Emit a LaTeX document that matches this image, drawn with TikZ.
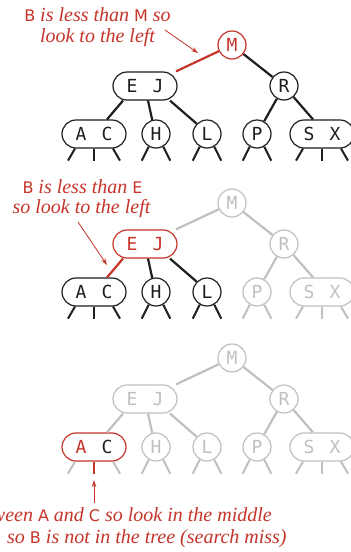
\documentclass[tikz,border=0pt]{standalone}
\usepackage{fontspec}
\setmainfont{Liberation Serif}
\newfontfamily\keyfont{DejaVu Sans}
\newfontfamily\nodefont{DejaVu Sans Mono}
\usetikzlibrary{arrows.meta}
\definecolor{sred}{RGB}{198,52,42}
\definecolor{sgray}{RGB}{192,192,192}
\definecolor{sblack}{RGB}{30,30,30}
\newcommand\kk[1]{{\upshape\keyfont\fontsize{16}{16}\selectfont #1}}
\newcommand\twokeys[2]{#1\hspace{15.2pt}#2}
\newcommand\stubsone[2]{%
  \draw[stub,#2] (#1.-120) -- ++(-7,14);
  \draw[stub,#2] (#1.-60) -- ++(7,14);}
\newcommand\stubstwo[4]{%
  \draw[stub,#2] ([xshift=-19pt]#1.south) -- ++(-7,12);
  \draw[stub,#3] (#1.south) -- ++(0,12);
  \draw[stub,#4] ([xshift=19pt]#1.south) -- ++(7,12);}
\begin{document}
\begin{tikzpicture}[x=1pt,y=-1pt,color=sblack,
  every node/.style={inner sep=0pt},
  keyfnt/.style={font=\nodefont\fontsize{18}{18}\selectfont},
  one/.style={circle, draw, line width=1.2pt, minimum size=28pt, fill=white, keyfnt},
  two/.style={rectangle, rounded corners=14pt, draw, line width=1.2pt, minimum width=64pt, minimum height=28pt, fill=white, keyfnt},
  gry/.style={draw=sgray, text=sgray},
  redn/.style={draw=sred, text=sred},
  link/.style={line width=2.2pt},
  stub/.style={line width=2pt},
  note/.style={font=\itshape\fontsize{20}{21}\selectfont, text=sred},
  pointer/.style={draw=sred, line width=0.8pt, -{Stealth[length=7pt,width=4.5pt]}},
]
\fill[white] (0,0) rectangle (351,552);
\useasboundingbox (0,0) rectangle (351,552);

% ---------- tree 1 ----------
\node[one, redn] (M1) at (232,45) {M};
\node[two] (EJ1) at (145,86) {\twokeys EJ};
\node[one] (R1) at (284,86) {R};
\node[two] (AC1) at (94,134) {\twokeys AC};
\node[one] (H1) at (156,134) {H};
\node[one] (L1) at (207,134) {L};
\node[one] (P1) at (257,134) {P};
\node[two] (SX1) at (322,134) {\twokeys SX};
\draw[link, sred] (M1) -- (EJ1);
\draw[link] (M1) -- (R1);
\draw[link] ([xshift=-22pt]EJ1.south) -- ([xshift=13pt]AC1.north);
\draw[link] ([xshift=3pt]EJ1.south) -- (H1.105);
\draw[link] ([xshift=25pt]EJ1.south) -- (L1.135);
\draw[link] (R1) -- (P1);
\draw[link] (R1) -- ([xshift=-9pt]SX1.north);
\stubstwo{AC1}{sblack}{sblack}{sblack}
\stubsone{H1}{sblack}
\stubsone{L1}{sblack}
\stubsone{P1}{sblack}
\stubstwo{SX1}{sblack}{sblack}{sblack}
\node[note, anchor=base] (t1a) at (97.5,21) {\kk{B} is less than \kk{M} so};
\node[note, anchor=base] (t1b) at (97.5,42) {look to the left};
\coordinate (a1) at (165,30);
\draw[pointer] (a1) -- (198,53);

% ---------- tree 2 ----------
\begin{scope}[yshift=-158pt]
\node[one, gry] (M2) at (232,45) {M};
\node[two, redn] (EJ2) at (145,86) {\twokeys EJ};
\node[one, gry] (R2) at (284,86) {R};
\node[two] (AC2) at (94,134) {\twokeys AC};
\node[one] (H2) at (156,134) {H};
\node[one] (L2) at (207,134) {L};
\node[one, gry] (P2) at (257,134) {P};
\node[two, gry] (SX2) at (322,134) {\twokeys SX};
\draw[link, sgray] (M2) -- (EJ2);
\draw[link, sgray] (M2) -- (R2);
\draw[link, sred] ([xshift=-22pt]EJ2.south) -- ([xshift=13pt]AC2.north);
\draw[link] ([xshift=3pt]EJ2.south) -- (H2.105);
\draw[link] ([xshift=25pt]EJ2.south) -- (L2.135);
\draw[link, sgray] (R2) -- (P2);
\draw[link, sgray] (R2) -- ([xshift=-9pt]SX2.north);
\stubstwo{AC2}{sblack}{sblack}{sblack}
\stubsone{H2}{sblack}
\stubsone{L2}{sblack}
\stubsone{P2}{sgray}
\stubstwo{SX2}{sgray}{sgray}{sgray}
\end{scope}
\node[note, anchor=base] (t2a) at (82.5,193) {\kk{B} is less than \kk{E}};
\node[note, anchor=base] (t2b) at (81.5,213) {so look to the left};
\coordinate (a2) at (78,222);
\draw[pointer] (a2) -- (107,265);

% ---------- tree 3 ----------
\begin{scope}[yshift=-313pt]
\node[one, gry] (M3) at (232,45) {M};
\node[two, gry] (EJ3) at (145,86) {\twokeys EJ};
\node[one, gry] (R3) at (284,86) {R};
\node[two, draw=sred] (AC3) at (94,134) {\twokeys{\textcolor{sred}{A}}{C}};
\node[one, gry] (H3) at (156,134) {H};
\node[one, gry] (L3) at (207,134) {L};
\node[one, gry] (P3) at (257,134) {P};
\node[two, gry] (SX3) at (322,134) {\twokeys SX};
\draw[link, sgray] (M3) -- (EJ3);
\draw[link, sgray] (M3) -- (R3);
\draw[link, sgray] ([xshift=-22pt]EJ3.south) -- ([xshift=13pt]AC3.north);
\draw[link, sgray] ([xshift=3pt]EJ3.south) -- (H3.105);
\draw[link, sgray] ([xshift=25pt]EJ3.south) -- (L3.135);
\draw[link, sgray] (R3) -- (P3);
\draw[link, sgray] (R3) -- ([xshift=-9pt]SX3.north);
\stubstwo{AC3}{sgray}{sred}{sgray}
\stubsone{H3}{sgray}
\stubsone{L3}{sgray}
\stubsone{P3}{sgray}
\stubstwo{SX3}{sgray}{sgray}{sgray}
\end{scope}
\coordinate (a3) at (94,503);
\draw[pointer] (a3) -- (94,480);
\node[note, anchor=base east] (t3a) at (272,521) {between \kk{A} and \kk{C} so look in the middle};
\node[note, anchor=base west] (t3b) at (7,543) {so \kk{B} is not in the tree (search miss)};
\end{tikzpicture}
\end{document}
